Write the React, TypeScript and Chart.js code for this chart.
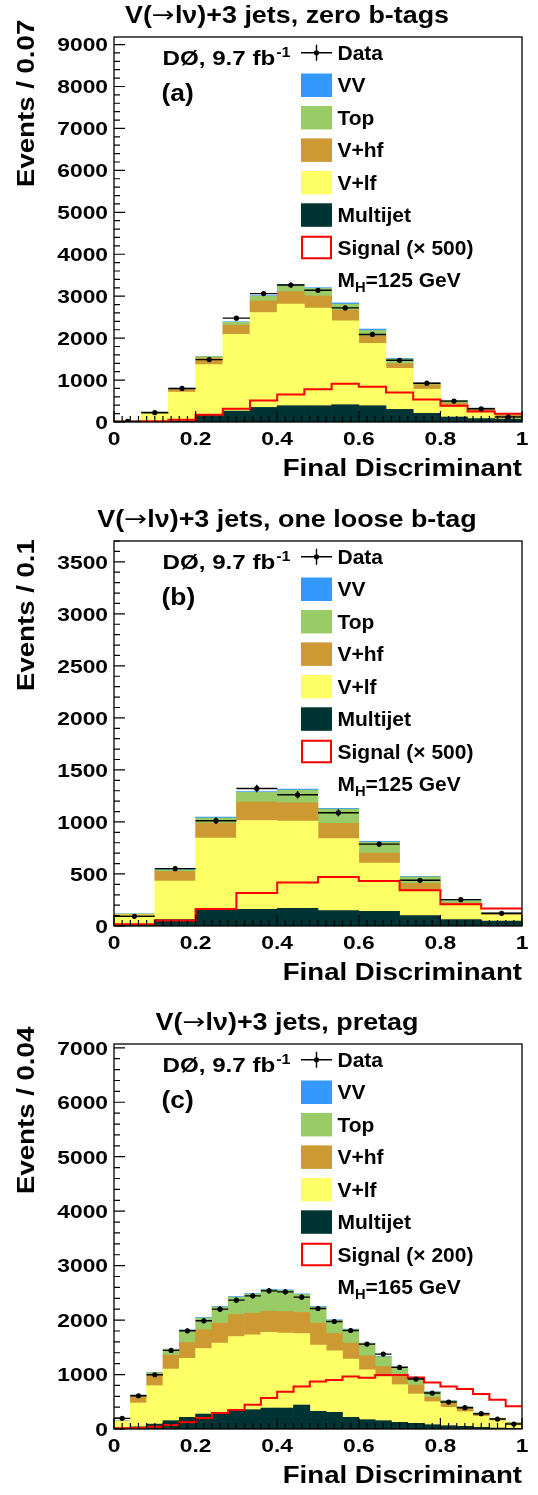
import React, { useEffect, useRef } from "react";
import { Chart, registerables } from "chart.js";

Chart.register(...registerables);

// ---------------- shared text / ticks ----------------
const xTickValues = [0, 0.2, 0.4, 0.6, 0.8, 1];
const xTickLabels = ["0", "0.2", "0.4", "0.6", "0.8", "1"];
const xTitle = "Final Discriminant";
const experimentLabel = "DØ, 9.7 fb";
const experimentSup = "-1";
const legendLabels = ["Data", "VV", "Top", "V+hf", "V+lf", "Multijet"];
const titlePrefix = "V(";
const titleArrow = "\u2192";
const titleProcess = "l\u03bd)+3 jets, ";

// ---------------- panel (a) ----------------
const titleA = "zero b-tags";
const yTitleA = "Events / 0.07";
const tagA = "(a)";
const signalLabelA = "Signal (\u00d7 500)";
const massA = "125 GeV";
const yTicksA = [0, 1000, 2000, 3000, 4000, 5000, 6000, 7000, 8000, 9000];
const multijetA = [3, 12, 30, 175, 261, 348, 388, 388, 412, 388, 301, 206, 119, 81, 71];
const vlfA = [17, 216, 682, 1194, 1827, 2262, 2421, 2326, 2001, 1486, 980, 577, 237, 156, 48];
const vhfA = [3, 8, 78, 158, 222, 277, 299, 292, 254, 183, 112, 104, 95, 64, 39];
const topA = [2, 3, 14, 33, 69, 112, 157, 179, 142, 126, 111, 40, 59, 28, 22];
const vvA = [0, 1, 3, 6, 10, 14, 18, 18, 31, 33, 14, 8, 5, 3, 2];
const signalA = [5, 20, 55, 175, 316, 514, 657, 783, 911, 840, 704, 539, 388, 253, 198];
const dataA = [16, 222, 800, 1488, 2476, 3061, 3267, 3141, 2721, 2088, 1471, 925, 498, 316, 119];

// ---------------- panel (b) ----------------
const titleB = "one loose b-tag";
const yTitleB = "Events / 0.1";
const tagB = "(b)";
const signalLabelB = "Signal (\u00d7 500)";
const massB = "125 GeV";
const yTicksB = [0, 500, 1000, 1500, 2000, 2500, 3000, 3500];
const multijetB = [15, 61, 151, 161, 170, 148, 141, 100, 61, 48];
const vlfB = [93, 371, 694, 853, 838, 691, 464, 243, 138, 55];
const vhfB = [4, 93, 144, 176, 176, 147, 96, 67, 22, 9];
const topB = [5, 16, 49, 95, 123, 138, 106, 63, 24, 12];
const vvB = [1, 3, 8, 8, 8, 6, 6, 4, 2, 1];
const signalB = [16, 53, 163, 317, 419, 470, 432, 343, 208, 167];
const dataB = [93, 551, 1012, 1322, 1261, 1088, 787, 439, 253, 122];

// ---------------- panel (c) ----------------
const titleC = "pretag";
const yTitleC = "Events / 0.04";
const tagC = "(c)";
const signalLabelC = "Signal (\u00d7 200)";
const massC = "165 GeV";
const yTicksC = [0, 1000, 2000, 3000, 4000, 5000, 6000, 7000];
const multijetC = [18, 40, 90, 153, 214, 275, 287, 336, 355, 385, 385, 440, 324, 306, 214, 171, 153, 122, 104, 79, 61, 49, 31, 18, 12];
const vlfC = [123, 437, 705, 947, 1082, 1204, 1290, 1363, 1375, 1388, 1376, 1314, 1216, 1131, 1070, 917, 807, 691, 538, 422, 336, 269, 201, 135, 80];
const vhfC = [4, 122, 214, 257, 293, 343, 367, 404, 397, 391, 397, 386, 404, 317, 293, 257, 189, 177, 165, 80, 80, 61, 43, 30, 18];
const topC = [2, 23, 27, 105, 225, 216, 294, 318, 349, 390, 384, 330, 294, 241, 248, 224, 177, 147, 105, 100, 40, 29, 16, 12, 11];
const vvC = [0, 2, 3, 5, 8, 10, 12, 12, 12, 13, 13, 12, 12, 10, 9, 8, 7, 6, 5, 4, 3, 2, 2, 1, 1];
const signalC = [12, 18, 43, 73, 122, 202, 293, 348, 446, 568, 685, 782, 874, 899, 966, 941, 990, 990, 947, 856, 782, 734, 642, 538, 416];
const dataC = [196, 611, 996, 1443, 1803, 1987, 2201, 2366, 2445, 2537, 2519, 2421, 2213, 1974, 1809, 1559, 1375, 1131, 917, 660, 495, 391, 281, 183, 92];

// ---------------- styles ----------------
const COLORS = {
  vv: "#3399ff",
  top: "#99cc66",
  vhf: "#cc9933",
  vlf: "#ffff66",
  multijet: "#003333",
  signal: "#ff0000",
  data: "#000000",
};
const FONT = "'Liberation Sans', Arial, Helvetica, sans-serif";
const SYMBOL_FONT = "'DejaVu Sans', sans-serif";
const W = 538;
const H = 488;
const FRAME = { left: 114, right: 522, top: 37, bottom: 422 };

type PanelCfg = {
  title: string;
  yTitle: string;
  tag: string;
  signalLabel: string;
  mass: string;
  yMax: number;
  yTicks: number[];
  yMinorPerMajor: number;
  multijet: number[];
  vlf: number[];
  vhf: number[];
  top: number[];
  vv: number[];
  signal: number[];
  data: number[];
};

const panelA: PanelCfg = {
  title: titleA, yTitle: yTitleA, tag: tagA, signalLabel: signalLabelA, mass: massA,
  yMax: 9180, yTicks: yTicksA, yMinorPerMajor: 5,
  multijet: multijetA, vlf: vlfA, vhf: vhfA, top: topA, vv: vvA, signal: signalA, data: dataA,
};
const panelB: PanelCfg = {
  title: titleB, yTitle: yTitleB, tag: tagB, signalLabel: signalLabelB, mass: massB,
  yMax: 3700, yTicks: yTicksB, yMinorPerMajor: 5,
  multijet: multijetB, vlf: vlfB, vhf: vhfB, top: topB, vv: vvB, signal: signalB, data: dataB,
};
const panelC: PanelCfg = {
  title: titleC, yTitle: yTitleC, tag: tagC, signalLabel: signalLabelC, mass: massC,
  yMax: 7070, yTicks: yTicksC, yMinorPerMajor: 5,
  multijet: multijetC, vlf: vlfC, vhf: vhfC, top: topC, vv: vvC, signal: signalC, data: dataC,
};

function txt(
  ctx: CanvasRenderingContext2D,
  s: string,
  x: number,
  y: number,
  size: number,
  sx: number,
  align: CanvasTextAlign = "left",
  rot = 0,
  color = "#000",
  font = `bold ${size}px ${FONT}`
): number {
  ctx.save();
  ctx.translate(x, y);
  if (rot) ctx.rotate(rot);
  ctx.scale(sx, 1);
  ctx.font = font;
  ctx.fillStyle = color;
  ctx.textAlign = align;
  ctx.textBaseline = "alphabetic";
  ctx.fillText(s, 0, 0);
  const w = ctx.measureText(s).width * sx;
  ctx.restore();
  return w;
}

function measure(ctx: CanvasRenderingContext2D, s: string, font: string, sx: number) {
  ctx.save();
  ctx.font = font;
  const w = ctx.measureText(s).width * sx;
  ctx.restore();
  return w;
}

function makePlugin(cfg: PanelCfg) {
  return {
    id: "rootStyle",
    afterDatasetsDraw(chart: any) {
      const ctx: CanvasRenderingContext2D = chart.ctx;
      const { left, right, top, bottom } = chart.chartArea;
      const xs = chart.scales.x;
      const ys = chart.scales.y;
      const n = cfg.data.length;
      ctx.save();
      // data error bars
      ctx.strokeStyle = COLORS.data;
      ctx.lineWidth = 1.4;
      cfg.data.forEach((v, i) => {
        const xl = xs.getPixelForValue(i / n);
        const xr = xs.getPixelForValue((i + 1) / n);
        const xc = xs.getPixelForValue((i + 0.5) / n);
        const y = ys.getPixelForValue(v);
        const e = Math.sqrt(v);
        ctx.beginPath();
        ctx.moveTo(xl, y);
        ctx.lineTo(xr, y);
        ctx.moveTo(xc, ys.getPixelForValue(v + e));
        ctx.lineTo(xc, ys.getPixelForValue(Math.max(0, v - e)));
        ctx.stroke();
      });
      // frame
      ctx.lineWidth = 1.3;
      ctx.strokeStyle = "#000";
      ctx.strokeRect(left, top, right - left, bottom - top);
      // y ticks
      ctx.lineWidth = 1.2;
      const yStep = cfg.yTicks[1] - cfg.yTicks[0];
      const yMinor = yStep / cfg.yMinorPerMajor;
      ctx.beginPath();
      for (let k = 0; k * yMinor <= cfg.yMax + 1e-6; k++) {
        const v = k * yMinor;
        const py = ys.getPixelForValue(v);
        const len = k % cfg.yMinorPerMajor === 0 ? 11 : 6;
        ctx.moveTo(left, py);
        ctx.lineTo(left + len, py);
      }
      // x ticks
      for (let k = 0; k <= 50; k++) {
        const px = xs.getPixelForValue(k / 50);
        const len = k % 10 === 0 ? 11 : 6;
        ctx.moveTo(px, bottom);
        ctx.lineTo(px, bottom - len);
      }
      ctx.stroke();
      ctx.restore();
    },
    afterDraw(chart: any) {
      const ctx: CanvasRenderingContext2D = chart.ctx;
      const { left, right, top, bottom } = chart.chartArea;
      const xs = chart.scales.x;
      const ys = chart.scales.y;
      // title (centered, with a symbol-font arrow)
      {
        const tsx = 1.12;
        const bold = `bold 24px ${FONT}`;
        const sym = `22px ${SYMBOL_FONT}`;
        const rest = titleProcess + cfg.title;
        const w0 = measure(ctx, titlePrefix, bold, tsx);
        const w1 = measure(ctx, titleArrow, sym, 1.25);
        const w2 = measure(ctx, rest, bold, tsx);
        const total = w0 + w1 + w2;
        let x = 287 - total / 2;
        const b = top - 13.7;
        x += txt(ctx, titlePrefix, x, b, 24, tsx, "left", 0, "#000", bold);
        x += txt(ctx, titleArrow, x, b - 1, 22, 1.25, "left", 0, "#000", sym);
        txt(ctx, rest, x, b, 24, tsx, "left", 0, "#000", bold);
      }
      // y title (rotated, starting at frame top + 150)
      txt(ctx, cfg.yTitle, 33.5, top + 150, 23, 1.2, "left", -Math.PI / 2);
      // x title
      txt(ctx, xTitle, right, bottom + 54, 23, 1.2, "right");
      // x tick labels
      xTickValues.forEach((v, i) => {
        txt(ctx, xTickLabels[i], xs.getPixelForValue(v), bottom + 23, 19, 1.2, "center");
      });
      // y tick labels
      cfg.yTicks.forEach((v) => {
        txt(ctx, String(v), left - 6, ys.getPixelForValue(v) + 6.8, 19, 1.2, "right");
      });
      // experiment label
      const ex = 162.5;
      const w1 = txt(ctx, experimentLabel, ex, top + 28, 21, 1.15, "left");
      txt(ctx, experimentSup, ex + w1 + 1, top + 20, 14, 1.15, "left");
      txt(ctx, cfg.tag, 161.5, top + 64, 24, 1.1, "left");
      // legend
      const mx = 301;
      const mw = 31;
      const tx = 337.5;
      const row0 = top + 15.8;
      const step = 32.45;
      const bh = 23.5;
      // Data row
      {
        const cy = row0;
        ctx.save();
        ctx.strokeStyle = "#000";
        ctx.lineWidth = 1.4;
        ctx.beginPath();
        ctx.moveTo(mx, cy);
        ctx.lineTo(mx + mw, cy);
        ctx.moveTo(mx + mw / 2, cy - 8);
        ctx.lineTo(mx + mw / 2, cy + 8);
        ctx.stroke();
        ctx.fillStyle = "#000";
        ctx.beginPath();
        ctx.arc(mx + mw / 2, cy, 2.6, 0, Math.PI * 2);
        ctx.fill();
        ctx.restore();
        txt(ctx, legendLabels[0], tx, cy + 7.2, 20, 1.05);
      }
      const boxColors = [COLORS.vv, COLORS.top, COLORS.vhf, COLORS.vlf, COLORS.multijet];
      boxColors.forEach((c, i) => {
        const cy = row0 + step * (i + 1);
        ctx.save();
        ctx.fillStyle = c;
        ctx.fillRect(mx, cy - bh / 2, mw, bh);
        ctx.restore();
        txt(ctx, legendLabels[i + 1], tx, cy + 7.2, 20, 1.05);
      });
      {
        const cy = row0 + step * 6;
        ctx.save();
        ctx.strokeStyle = COLORS.signal;
        ctx.lineWidth = 2;
        ctx.strokeRect(mx + 1, cy - bh / 2 + 1, mw - 2, bh - 2);
        ctx.restore();
        txt(ctx, cfg.signalLabel, tx, cy + 7.2, 20, 1.05);
      }
      {
        const cy = row0 + step * 7 - 0.5;
        const b = cy + 7.2;
        const w0 = txt(ctx, "M", tx, b, 20, 1.05);
        const w1b = txt(ctx, "H", tx + w0, b + 5, 14, 1.05);
        txt(ctx, "=" + cfg.mass, tx + w0 + w1b, b, 20, 1.05);
      }
    },
  };
}

function Panel({ cfg, top }: { cfg: PanelCfg; top: number }) {
  const ref = useRef<HTMLCanvasElement | null>(null);
  useEffect(() => {
    if (!ref.current) return;
    const n = cfg.data.length;
    const toXY = (arr: number[]) => arr.map((y, i) => ({ x: (i + 0.5) / n, y }));
    const sigPts = cfg.signal
      .map((y, i) => ({ x: i / n, y }))
      .concat([{ x: 1, y: cfg.signal[n - 1] }]);
    const bar = (label: string, arr: number[], color: string) => ({
      type: "bar" as const,
      label,
      data: toXY(arr),
      backgroundColor: color,
      borderWidth: 0,
      barPercentage: 1,
      categoryPercentage: 1,
      stack: "bkg",
      order: 2,
    });
    const chart = new Chart(ref.current, {
      type: "bar",
      data: {
        datasets: [
          {
            type: "scatter",
            label: "Data",
            data: toXY(cfg.data),
            pointRadius: 2.6,
            pointBackgroundColor: COLORS.data,
            pointBorderWidth: 0,
            stack: "data",
            order: 0,
          } as any,
          {
            type: "line",
            label: "Signal",
            data: sigPts,
            borderColor: COLORS.signal,
            borderWidth: 2,
            stepped: "before",
            pointRadius: 0,
            fill: false,
            stack: "sig",
            order: 1,
          } as any,
          bar("Multijet", cfg.multijet, COLORS.multijet),
          bar("V+lf", cfg.vlf, COLORS.vlf),
          bar("V+hf", cfg.vhf, COLORS.vhf),
          bar("Top", cfg.top, COLORS.top),
          bar("VV", cfg.vv, COLORS.vv),
        ],
      },
      options: {
        animation: false,
        responsive: false,
        devicePixelRatio: 1,
        layout: {
          padding: {
            left: FRAME.left,
            right: W - FRAME.right,
            top: FRAME.top,
            bottom: H - FRAME.bottom,
          },
        },
        scales: {
          x: {
            type: "linear",
            min: 0,
            max: 1,
            stacked: true,
            offset: false,
            display: false,
            ticks: { stepSize: 0.2 },
            grid: { offset: false },
          },
          y: {
            type: "linear",
            min: 0,
            max: cfg.yMax,
            stacked: true,
            display: false,
          },
        },
        plugins: {
          legend: { display: false },
          tooltip: { enabled: false },
          title: { display: false },
        },
      } as any,
      plugins: [makePlugin(cfg)],
    });
    return () => chart.destroy();
  }, [cfg]);
  return (
    <canvas
      ref={ref}
      width={W}
      height={H}
      style={{ position: "absolute", left: 0, top, width: W, height: H, display: "block" }}
    />
  );
}

export default function App() {
  return (
    <div
      style={{
        position: "absolute",
        left: 0,
        top: 0,
        width: W,
        height: 1495,
        background: "#fff",
        overflow: "hidden",
      }}
    >
      <Panel cfg={panelA} top={0} />
      <Panel cfg={panelB} top={504} />
      <Panel cfg={panelC} top={1007} />
    </div>
  );
}
